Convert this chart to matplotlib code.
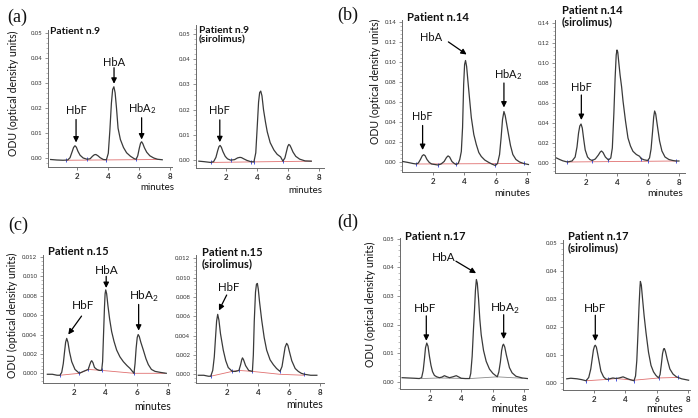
import matplotlib
matplotlib.use("Agg")
import matplotlib.pyplot as plt
from matplotlib.ticker import MultipleLocator, FixedLocator, AutoMinorLocator, FormatStrFormatter

plt.rcParams['font.family'] = ['Lato', 'DejaVu Sans']
plt.rcParams['mathtext.fontset'] = 'custom'
plt.rcParams['mathtext.rm'] = 'Lato'

W, H = 698, 418

# ---- chromatogram traces (minutes, ODU) ----
# (a) Patient n.9
p9_t = [0.3, 0.7, 1.1, 1.4, 1.55, 1.68, 1.78, 1.87, 1.96, 2.06, 2.2, 2.4, 2.65, 2.85, 3.0, 3.12,
        3.22, 3.35, 3.5, 3.7, 3.9, 4.02, 4.12, 4.22, 4.3, 4.38, 4.46, 4.55, 4.65, 4.8, 5.0, 5.2,
        5.45, 5.7, 5.82, 5.92, 6.02, 6.1, 6.17, 6.25, 6.35, 6.5, 6.7, 6.95, 7.2, 7.5]
p9_y = [-0.0005, -0.0007, -0.0008, -0.0007, 0.0002, 0.0025, 0.0043, 0.0050, 0.0044, 0.0028,
        0.0012, 0.0001, -0.0004, -0.0002, 0.0008, 0.0014, 0.0015, 0.0010, 0.0002, -0.0005,
        -0.0006, 0.0020, 0.0110, 0.0220, 0.0275, 0.0286, 0.0262, 0.0200, 0.0120, 0.0075,
        0.0043, 0.0022, 0.0008, -0.0002, -0.0004, 0.0010, 0.0040, 0.0060, 0.0066, 0.0058,
        0.0042, 0.0024, 0.0010, 0.0001, -0.0004, -0.0006]
p9s_t = [0.25, 0.6, 1.0, 1.2, 1.35, 1.47, 1.55, 1.62, 1.7, 1.8, 1.95, 2.1, 2.3, 2.55, 2.75,
         2.9, 3.0, 3.15, 3.35, 3.6, 3.8, 3.92, 4.02, 4.1, 4.17, 4.24, 4.32, 4.42, 4.55, 4.66,
         4.85, 5.09, 5.3, 5.52, 5.67, 5.8, 5.9, 5.98, 6.05, 6.12, 6.2, 6.32, 6.5, 6.75, 7.1, 7.5]
p9s_y = [-0.0003, -0.0005, -0.0008, -0.0005, 0.0012, 0.0040, 0.0055, 0.0059, 0.0052, 0.0035,
         0.0016, 0.0006, 0.0001, 0.0003, 0.0010, 0.0012, 0.0011, 0.0006, 0.0000, -0.0005,
         -0.0006, 0.0030, 0.0140, 0.0230, 0.0268, 0.0274, 0.0255, 0.0200, 0.0150, 0.0113,
         0.0070, 0.0041, 0.0024, 0.0014, -0.0003, 0.0010, 0.0035, 0.0055, 0.0063, 0.0060,
         0.0050, 0.0033, 0.0016, 0.0005, -0.0002, -0.0003]

# (b) Patient n.14
p14_t = [0.05, 0.4, 0.7, 0.92, 1.05, 1.18, 1.3, 1.39, 1.48, 1.6, 1.75, 1.9, 2.1, 2.3, 2.5,
         2.7, 2.85, 2.95, 3.05, 3.2, 3.35, 3.47, 3.6, 3.7, 3.8, 3.88, 3.95, 4.01, 4.07, 4.14,
         4.22, 4.32, 4.44, 4.6, 4.76, 4.92, 5.08, 5.3, 5.51, 5.75, 5.98, 6.12, 6.25, 6.35,
         6.44, 6.53, 6.61, 6.7, 6.79, 6.95, 7.1, 7.3, 7.53, 7.8, 8.1]
p14_y = [0.0010, 0.0000, -0.0010, -0.0015, -0.0005, 0.0030, 0.0068, 0.0078, 0.0068, 0.0030,
         0.0000, -0.0015, -0.0020, -0.0025, -0.0015, 0.0010, 0.0050, 0.0066, 0.0055, 0.0010,
         -0.0010, -0.0020, -0.0010, 0.0030, 0.0110, 0.0350, 0.0780, 0.0980, 0.1020, 0.0960,
         0.0820, 0.0650, 0.0450, 0.0280, 0.0180, 0.0100, 0.0060, 0.0025, 0.0005, -0.0015,
         -0.0030, -0.0010, 0.0080, 0.0250, 0.0430, 0.0510, 0.0470, 0.0390, 0.0310, 0.0170,
         0.0080, 0.0030, 0.0005, -0.0010, -0.0020]
p14s_t = [0.1, 0.3, 0.5, 0.8, 1.1, 1.3, 1.42, 1.52, 1.6, 1.68, 1.76, 1.85, 1.95, 2.1, 2.25,
          2.4, 2.6, 2.8, 2.92, 3.0, 3.1, 3.25, 3.45, 3.6, 3.7, 3.8, 3.88, 3.95, 4.0, 4.05,
          4.12, 4.2, 4.3, 4.39, 4.55, 4.71, 4.87, 5.03, 5.25, 5.46, 5.55, 5.75, 5.98, 6.1,
          6.2, 6.3, 6.37, 6.43, 6.5, 6.6, 6.75, 6.9, 7.1, 7.35, 7.6, 7.8, 8.0]
p14s_y = [0.0050, 0.0035, 0.0022, 0.0010, 0.0020, 0.0060, 0.0160, 0.0300, 0.0370, 0.0390,
          0.0350, 0.0240, 0.0130, 0.0060, 0.0035, 0.0025, 0.0040, 0.0080, 0.0110, 0.0120,
          0.0105, 0.0060, 0.0030, 0.0050, 0.0150, 0.0500, 0.0850, 0.1080, 0.1130, 0.1110,
          0.1000, 0.0880, 0.0760, 0.0620, 0.0420, 0.0250, 0.0170, 0.0117, 0.0085, 0.0067,
          0.0045, 0.0032, 0.0025, 0.0050, 0.0140, 0.0320, 0.0460, 0.0520, 0.0490, 0.0380,
          0.0220, 0.0120, 0.0060, 0.0035, 0.0025, 0.0020, 0.0020]

# (c) Patient n.15
p15_t = [0.28, 0.6, 0.9, 1.09, 1.2, 1.3, 1.38, 1.45, 1.52, 1.6, 1.7, 1.84, 2.05, 2.33, 2.6,
         2.9, 3.0, 3.07, 3.12, 3.2, 3.3, 3.45, 3.6, 3.76, 3.82, 3.88, 3.94, 3.98, 4.02, 4.08,
         4.16, 4.27, 4.4, 4.55, 4.72, 4.93, 5.15, 5.38, 5.58, 5.83, 5.9, 5.97, 6.04, 6.1,
         6.17, 6.27, 6.43, 6.6, 6.75, 6.95, 7.18, 7.5, 7.9]
p15_y = [-0.0001, -0.0001, -0.0002, -0.0002, 0.0001, 0.0010, 0.0022, 0.0032, 0.0036, 0.0032,
         0.0022, 0.0012, 0.0004, 0.0000, 0.0002, 0.0004, 0.0009, 0.0012, 0.0013, 0.0011,
         0.0006, 0.0004, 0.0003, 0.0003, 0.0012, 0.0040, 0.0068, 0.0082, 0.0086, 0.0082,
         0.0070, 0.0056, 0.0043, 0.0033, 0.0024, 0.0017, 0.0012, 0.0008, 0.0005, 0.0000,
         0.0010, 0.0026, 0.0037, 0.0040, 0.0038, 0.0032, 0.0024, 0.0015, 0.0009, 0.0004,
         0.0002, 0.0001, 0.0000]
p15s_t = [0.15, 0.5, 0.8, 0.95, 1.08, 1.18, 1.26, 1.33, 1.4, 1.48, 1.58, 1.76, 1.92, 2.08,
          2.34, 2.55, 2.77, 2.88, 2.95, 3.0, 3.07, 3.2, 3.4, 3.64, 3.7, 3.76, 3.84, 3.9, 3.96,
          4.02, 4.1, 4.24, 4.4, 4.56, 4.78, 4.99, 5.2, 5.42, 5.55, 5.65, 5.75, 5.85, 5.93,
          6.02, 6.18, 6.4, 6.6, 6.8, 7.0, 7.4, 7.8]
p15s_y = [-0.0001, -0.0001, -0.0002, -0.0002, 0.0004, 0.0018, 0.0038, 0.0055, 0.0062, 0.0056,
          0.0042, 0.0025, 0.0014, 0.0007, 0.0003, 0.0003, 0.0004, 0.0010, 0.0015, 0.0017,
          0.0015, 0.0009, 0.0004, 0.0003, 0.0020, 0.0055, 0.0085, 0.0093, 0.0094, 0.0088,
          0.0075, 0.0056, 0.0038, 0.0025, 0.0015, 0.0010, 0.0006, 0.0003, 0.0008, 0.0018,
          0.0028, 0.0032, 0.0030, 0.0024, 0.0014, 0.0006, 0.0003, 0.0001, 0.0000, -0.0001,
          -0.0001]

# (d) Patient n.17
p17_t = [0.2, 0.6, 1.0, 1.3, 1.45, 1.55, 1.63, 1.7, 1.78, 1.86, 1.95, 2.05, 2.15, 2.27,
         2.42, 2.59, 2.75, 2.91, 3.08, 3.24, 3.45, 3.67, 3.85, 3.99, 4.25, 4.52, 4.6, 4.69,
         4.77, 4.84, 4.9, 4.96, 5.02, 5.1, 5.18, 5.27, 5.42, 5.59, 5.8, 6.02, 6.3, 6.4, 6.5,
         6.58, 6.65, 6.7, 6.78, 6.88, 7.08, 7.25, 7.5, 7.9, 8.24]
p17_y = [0.0015, 0.0014, 0.0013, 0.0012, 0.0015, 0.0040, 0.0080, 0.0120, 0.0136, 0.0125,
         0.0090, 0.0058, 0.0036, 0.0023, 0.0018, 0.0015, 0.0017, 0.0022, 0.0018, 0.0015,
         0.0018, 0.0022, 0.0017, 0.0013, 0.0012, 0.0012, 0.0030, 0.0090, 0.0180, 0.0250,
         0.0320, 0.0358, 0.0345, 0.0290, 0.0220, 0.0165, 0.0110, 0.0072, 0.0045, 0.0030,
         0.0018, 0.0035, 0.0070, 0.0110, 0.0128, 0.0132, 0.0122, 0.0095, 0.0050, 0.0032,
         0.0020, 0.0014, 0.0012]
p17s_t = [0.24, 0.5, 0.9, 1.2, 1.48, 1.65, 1.78, 1.88, 1.95, 2.02, 2.07, 2.14, 2.22, 2.32,
          2.43, 2.6, 2.75, 2.87, 3.05, 3.2, 3.4, 3.6, 3.85, 4.1, 4.3, 4.55, 4.65, 4.73, 4.8,
          4.87, 4.93, 4.96, 5.02, 5.1, 5.2, 5.32, 5.48, 5.64, 5.8, 5.96, 6.13, 6.22, 6.3,
          6.38, 6.45, 6.5, 6.57, 6.68, 6.85, 7.05, 7.27, 7.6, 8.05]
p17s_y = [0.0015, 0.0017, 0.0015, 0.0012, 0.0008, 0.0020, 0.0050, 0.0090, 0.0118, 0.0132,
          0.0135, 0.0128, 0.0105, 0.0075, 0.0042, 0.0022, 0.0014, 0.0013, 0.0016, 0.0018,
          0.0016, 0.0018, 0.0022, 0.0016, 0.0012, 0.0008, 0.0025, 0.0080, 0.0170, 0.0270,
          0.0340, 0.0363, 0.0350, 0.0300, 0.0240, 0.0180, 0.0110, 0.0063, 0.0040, 0.0027,
          0.0018, 0.0030, 0.0065, 0.0105, 0.0122, 0.0123, 0.0112, 0.0085, 0.0050, 0.0032,
          0.0022, 0.0015, 0.0010]

# integration baselines (red) and peak delimiters (blue)
p9_base_t, p9_base_y = [1.3, 7.3], [-0.0008, -0.0005]
p9_marks_t = [1.3, 2.65, 3.9, 5.82]
p9s_base_t, p9s_base_y = [1.0, 7.5], [-0.0008, -0.0003]
p9s_marks_t = [1.05, 2.3, 3.6, 3.8, 5.67]
p14_base_t, p14_base_y = [0.92, 7.8], [-0.0015, -0.0010]
p14_marks_t = [0.92, 2.3, 3.47, 5.98, 7.8]
p14s_base_t, p14s_base_y = [0.8, 7.8], [0.0010, 0.0020]
p14s_marks_t = [0.8, 2.4, 3.45, 5.55, 5.98, 7.8]
p15_base_t = [1.09, 2.33, 2.9, 3.76, 5.83, 7.8]
p15_base_y = [-0.0002, 0.0000, 0.0004, 0.0003, 0.0000, 0.0000]
p15_marks_t = [1.09, 2.33, 2.9, 3.76, 5.83]
p15s_base_t = [0.95, 2.34, 2.77, 3.64, 5.42, 7.0]
p15s_base_y = [-0.0002, 0.0003, 0.0004, 0.0003, 0.0000, -0.0001]
p15s_marks_t = [0.95, 2.34, 2.77, 3.64, 5.42, 7.0]
p17_base_t = [1.45, 2.6, 4.55, 6.3, 7.9]
p17_base_y = [0.0012, 0.0014, 0.0012, 0.0018, 0.0013]
p17_marks_t = []
p17s_base_t = [1.48, 2.87, 3.4, 4.55, 6.13, 7.4]
p17s_base_y = [0.0008, 0.0013, 0.0016, 0.0010, 0.0018, 0.0020]
p17s_marks_t = [1.48, 2.87, 3.4, 4.55, 6.13, 7.4]

x_ticks = [2, 4, 6, 8]
HBA2 = r'HbA$_\mathregular{2}$'


def fpos(x, y):
    return x / W, 1 - y / H


def make_ax(fig, left, right, top, bottom, xlim, ylim, ystep, fmt):
    ax = fig.add_axes([left / W, 1 - bottom / H, (right - left) / W, (bottom - top) / H])
    ax.set_xlim(*xlim)
    ax.set_ylim(*ylim)
    for s in ['top', 'right']:
        ax.spines[s].set_visible(False)
    for s in ['left', 'bottom']:
        ax.spines[s].set_color('#6a6a6a')
        ax.spines[s].set_linewidth(0.7)
    ax.xaxis.set_major_locator(FixedLocator(x_ticks))
    ax.yaxis.set_major_locator(MultipleLocator(ystep))
    ax.yaxis.set_minor_locator(AutoMinorLocator(5))
    ax.yaxis.set_major_formatter(FormatStrFormatter(fmt))
    ax.tick_params(axis='y', which='major', labelsize=4.3, length=2.5, width=0.5,
                   colors='#6a6a6a', labelcolor='#333333', pad=1.5)
    ax.tick_params(axis='y', which='minor', length=1.2, width=0.4, colors='#8a8a8a')
    ax.tick_params(axis='x', which='major', labelsize=5.8, length=2.5, width=0.6,
                   colors='#6a6a6a', labelcolor='#333333', pad=2)
    for lab in ax.get_xticklabels():
        lab.set_fontweight('bold')
    ax.patch.set_alpha(0)
    return ax


def trace(ax, t, y, bt, by, marks, base_color='#e07070'):
    ax.plot(bt, by, color=base_color, lw=0.6, zorder=2)
    if marks:
        my = [y[min(range(len(t)), key=lambda i: abs(t[i] - m))] for m in marks]
        ax.plot(marks, my, linestyle='none', marker='|', color='#4a55e0', ms=2.5, mew=0.7, zorder=3)
    ax.plot(t, y, color='#3a3a3a', lw=0.9, zorder=4)


def arrow(ax, tail, tip):
    ax.annotate('', xy=tip, xytext=tail,
                arrowprops=dict(arrowstyle='-|>', color='black', lw=0.9,
                                mutation_scale=8, shrinkA=0, shrinkB=0))


def label(ax, x, y, s, size=8):
    ax.text(x, y, s, ha='center', va='center', fontsize=size, color='#111111')


fig = plt.figure(figsize=(W / 100, H / 100), dpi=100)
fig.patch.set_facecolor('white')

# ---- (a) ----
ax = make_ax(fig, 48, 172, 30, 167, (0.13, 8.13), (-0.0035, 0.0513), 0.01, '%.2f')
trace(ax, p9_t, p9_y, p9_base_t, p9_base_y, p9_marks_t)
label(ax, 1.94, 0.0192, 'HbF'); arrow(ax, (1.94, 0.0155), (1.94, 0.0063))
label(ax, 4.39, 0.0384, 'HbA'); arrow(ax, (4.39, 0.0362), (4.39, 0.0298))
label(ax, 6.2, 0.0199, HBA2); arrow(ax, (6.17, 0.0162), (6.17, 0.0075))

ax = make_ax(fig, 196, 324, 25, 168, (0.065, 8.32), (-0.0030, 0.0535), 0.01, '%.2f')
trace(ax, p9s_t, p9s_y, p9s_base_t, p9s_base_y, p9s_marks_t)
label(ax, 1.6, 0.0196, 'HbF'); arrow(ax, (1.6, 0.0160), (1.6, 0.0072))

# ---- (b) ----
ax = make_ax(fig, 402, 530, 20, 172, (0.0, 8.2), (-0.0095, 0.1425), 0.02, '%.2f')
trace(ax, p14_t, p14_y, p14_base_t, p14_base_y, p14_marks_t)
label(ax, 1.32, 0.0456, 'HbF', 7.8); arrow(ax, (1.32, 0.037), (1.32, 0.0125))
label(ax, 1.85, 0.125, 'HbA'); arrow(ax, (2.97, 0.1206), (4.14, 0.108))
label(ax, 6.8, 0.0876, HBA2); arrow(ax, (6.53, 0.0795), (6.53, 0.055))

ax = make_ax(fig, 555, 685, 20, 173, (0.0, 8.39), (-0.010, 0.143), 0.02, '%.2f')
trace(ax, p14s_t, p14s_y, p14s_base_t, p14s_base_y, p14s_marks_t)
label(ax, 1.7, 0.0757, 'HbF'); arrow(ax, (1.7, 0.068), (1.7, 0.043))

# ---- (c) ----
ax = make_ax(fig, 43, 170, 255, 383, (0.0, 8.14), (-0.0010, 0.0122), 0.002, '%.3f')
trace(ax, p15_t, p15_y, p15_base_t, p15_base_y, p15_marks_t)
label(ax, 2.55, 0.0070, 'HbF', 8.5); arrow(ax, (2.47, 0.0059), (1.62, 0.0040))
label(ax, 4.08, 0.0106, 'HbA', 8.5); arrow(ax, (4.05, 0.0100), (4.05, 0.0088))
label(ax, 6.5, 0.0079, HBA2, 8.5); arrow(ax, (6.13, 0.0071), (6.13, 0.0044))

ax = make_ax(fig, 196, 324, 255, 383, (0.0, 8.26), (-0.0009, 0.01234), 0.002, '%.3f')
trace(ax, p15s_t, p15s_y, p15s_base_t, p15s_base_y, p15s_marks_t)
label(ax, 2.08, 0.0090, 'HbF', 8.3); arrow(ax, (1.98, 0.0082), (1.48, 0.0066))

# ---- (d) ----
ax = make_ax(fig, 400, 528, 238, 389, (0.064, 8.27), (-0.00245, 0.0503), 0.01, '%.2f')
trace(ax, p17_t, p17_y, p17_base_t, p17_base_y, p17_marks_t, base_color='#8a8a8a')
label(ax, 1.69, 0.0256, 'HbF', 8.5); arrow(ax, (1.75, 0.0231), (1.75, 0.0144))
label(ax, 2.84, 0.0434, 'HbA', 8.5); arrow(ax, (3.65, 0.0422), (4.94, 0.0380))
label(ax, 6.8, 0.0256, HBA2, 8.5); arrow(ax, (6.71, 0.0235), (6.71, 0.0150))

ax = make_ax(fig, 563, 690, 240, 390, (0.0, 8.14), (-0.0025, 0.0511), 0.01, '%.2f')
trace(ax, p17s_t, p17s_y, p17s_base_t, p17s_base_y, p17s_marks_t)
label(ax, 2.07, 0.0268, 'HbF', 8.5); arrow(ax, (2.07, 0.0242), (2.07, 0.0150))

# ---- titles ----
titles = [(50, 27, 'Patient n.9', 7.4), (199, 26, 'Patient n.9\n(sirolimus)', 7.4),
          (407, 12, 'Patient n.14', 8.2), (562, 5, 'Patient n.14\n(sirolimus)', 8.0),
          (48, 246, 'Patient n.15', 8.0), (202, 247, 'Patient n.15\n(sirolimus)', 8.0),
          (405, 231, 'Patient n.17', 8.0), (568, 231, 'Patient n.17\n(sirolimus)', 8.0)]
for x, y, s, fs in titles:
    fig.text(*fpos(x, y), s, ha='left', va='top', fontsize=fs, fontweight='bold',
             color='#111111', linespacing=1.0)

# ---- panel letters ----
for x, y, s in [(17, 17, '(a)'), (348, 15, '(b)'), (18, 225, '(c)'), (348, 222, '(d)')]:
    fig.text(*fpos(x, y), s, ha='center', va='center', fontsize=13,
             family='Liberation Serif', color='#111111')

# ---- axis titles ----
for x, y in [(13, 93, ), (375, 81), (12, 315), (370, 304)]:
    fig.text(*fpos(x, y), 'ODU (optical density units)', rotation=90, ha='center',
             va='center', fontsize=7.6, color='#111111')
for x, y, fs in [(157, 188, 7.0), (305, 190, 7.0), (512, 193, 7.4), (665, 193, 7.4),
                 (153, 407, 7.6), (305, 404, 7.6), (510, 408, 7.6), (665, 409, 7.6)]:
    fig.text(*fpos(x, y), 'minutes', ha='center', va='center', fontsize=fs, color='#111111')

fig.savefig('out.png', dpi=100)
